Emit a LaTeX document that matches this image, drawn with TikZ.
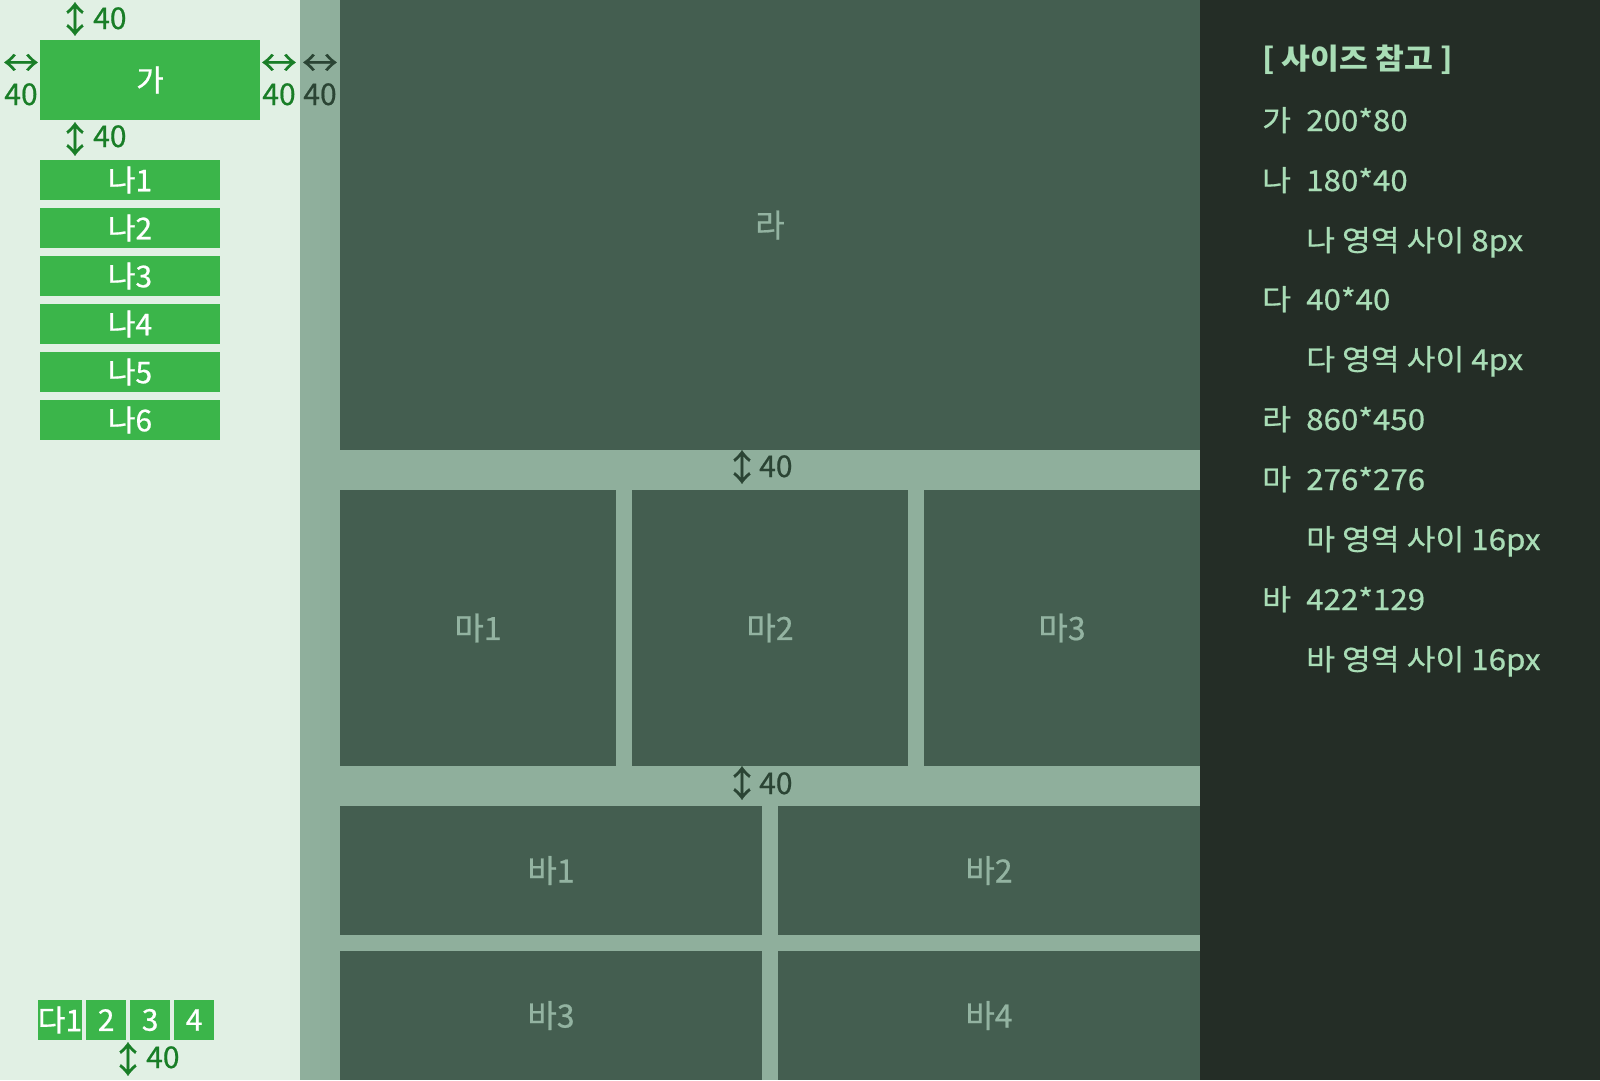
\documentclass[tikz,border=0pt]{standalone}
\usepackage{fontspec}
\setmainfont[UprightFeatures={FakeBold=0.6}]{Noto Sans CJK KR}
\newfontfamily\notefont[FakeStretch=1.08, UprightFeatures={FakeBold=0.6}]{Noto Sans CJK KR}
\usetikzlibrary{positioning}

\definecolor{sidebg}{HTML}{E1F0E4}
\definecolor{stripbg}{HTML}{8FAF9C}
\definecolor{areabg}{HTML}{445E50}
\definecolor{arealabel}{HTML}{93B3A1}
\definecolor{boxgreen}{HTML}{3BB54A}
\definecolor{dimgreen}{HTML}{197E27}
\definecolor{dimdark}{HTML}{2B4434}
\definecolor{notebg}{HTML}{242D26}
\definecolor{notetext}{HTML}{A9DDB6}

\tikzset{
  gbox/.style={fill=boxgreen, text=white, inner sep=0pt, outer sep=0pt,
    font=\fontsize{30}{30}\selectfont},
  areabox/.style={fill=areabg, text=arealabel, inner sep=0pt, outer sep=0pt,
    font=\fontsize{32}{32}\selectfont},
  dimtext/.style={text=dimgreen, inner sep=0pt, font=\fontsize{30}{30}\selectfont},
  dimarrow/.style={text=dimgreen, inner sep=0pt, font=\fontsize{36}{36}\selectfont},
  notetxt/.style={text=notetext, inner sep=0pt, anchor=base west,
    font=\notefont\fontsize{29}{29}\selectfont},
}

\begin{document}
\begin{tikzpicture}[x=1pt,y=-1pt]
        \useasboundingbox (0,0) rectangle (1600,1080);
        % backgrounds
        \fill[sidebg] (0,0) rectangle (300,1080);
        \fill[stripbg] (300,0) rectangle (1200,1080);
        \fill[notebg] (1200,0) rectangle (1600,1080);

        % sidebar
        \node[gbox, minimum width=220pt, minimum height=80pt] (ga) at (150,80) {가};
        \node[gbox, minimum width=180pt, minimum height=40pt] (na1) at (130,180) {나1};
        \node[gbox, minimum width=180pt, minimum height=40pt, below=8pt of na1] (na2) {나2};
        \node[gbox, minimum width=180pt, minimum height=40pt, below=8pt of na2] (na3) {나3};
        \node[gbox, minimum width=180pt, minimum height=40pt, below=8pt of na3] (na4) {나4};
        \node[gbox, minimum width=180pt, minimum height=40pt, below=8pt of na4] (na5) {나5};
        \node[gbox, minimum width=180pt, minimum height=40pt, below=8pt of na5] (na6) {나6};
        \node[gbox, minimum width=40pt, minimum height=40pt] (da1) at (60,1020) {다1};
        \node[gbox, minimum width=40pt, minimum height=40pt, right=4pt of da1] (da2) {2};
        \node[gbox, minimum width=40pt, minimum height=40pt, right=4pt of da2] (da3) {3};
        \node[gbox, minimum width=40pt, minimum height=40pt, right=4pt of da3] (da4) {4};

        % spacing marks
        \node[dimarrow] (ga-top-arr) at (75,19) {↕};
        \node[dimtext, anchor=base west] (ga-top) at (93,29) {40};
        \node[dimarrow] (ga-left-arr) at (21,65) {↔};
        \node[dimtext, anchor=base] (ga-left) at (21,105) {40};
        \node[dimarrow] (ga-right-arr) at (279,65) {↔};
        \node[dimtext, anchor=base] (ga-right) at (279,105) {40};
        \node[dimarrow, text=dimdark] (strip-arr) at (320,65) {↔};
        \node[dimtext, text=dimdark, anchor=base] (strip) at (320,105) {40};
        \node[dimarrow] (ga-bot-arr) at (75,139) {↕};
        \node[dimtext, anchor=base west] (ga-bot) at (93,147) {40};
        \node[dimarrow] (da-bot-arr) at (128,1059) {↕};
        \node[dimtext, anchor=base west] (da-bot) at (146,1068) {40};

        % main area
        \node[areabox, minimum width=860pt, minimum height=450pt] (ra) at (770,225) {라};
        \node[areabox, minimum width=276pt, minimum height=276pt] (ma1) at (478,628) {마1};
        \node[areabox, minimum width=276pt, minimum height=276pt, right=16pt of ma1] (ma2) {마2};
        \node[areabox, minimum width=276pt, minimum height=276pt, right=16pt of ma2] (ma3) {마3};
        \node[areabox, minimum width=422pt, minimum height=129pt] (ba1) at (551,870.5) {바1};
        \node[areabox, minimum width=422pt, minimum height=129pt, right=16pt of ba1] (ba2) {바2};
        \node[areabox, minimum width=422pt, minimum height=129pt, below=16pt of ba1] (ba3) {바3};
        \node[areabox, minimum width=422pt, minimum height=129pt, below=16pt of ba2] (ba4) {바4};
        \node[dimarrow, text=dimdark] (gap1-arr) at (742,467) {↕};
        \node[dimtext, text=dimdark, anchor=base west] (gap1) at (759,477) {40};
        \node[dimarrow, text=dimdark] (gap2-arr) at (742,783) {↕};
        \node[dimtext, text=dimdark, anchor=base west] (gap2) at (759,794) {40};

        % size notes
        \node[notetxt, font=\notefont\fontsize{29}{29}\selectfont\bfseries] (title) at (1262,69) {[ 사이즈 참고 ]};
        \node[notetxt] (k-ga) at (1262,131) {가};
        \node[notetxt] (v-ga) at (1306,131) {200*80};
        \node[notetxt] (k-na) at (1262,191) {나};
        \node[notetxt] (v-na) at (1306,191) {180*40};
        \node[notetxt] (g-na) at (1306,251) {나 영역 사이 8px};
        \node[notetxt] (k-da) at (1262,310) {다};
        \node[notetxt] (v-da) at (1306,310) {40*40};
        \node[notetxt] (g-da) at (1306,370) {다 영역 사이 4px};
        \node[notetxt] (k-ra) at (1262,430) {라};
        \node[notetxt] (v-ra) at (1306,430) {860*450};
        \node[notetxt] (k-ma) at (1262,490) {마};
        \node[notetxt] (v-ma) at (1306,490) {276*276};
        \node[notetxt] (g-ma) at (1306,550) {마 영역 사이 16px};
        \node[notetxt] (k-ba) at (1262,610) {바};
        \node[notetxt] (v-ba) at (1306,610) {422*129};
        \node[notetxt] (g-ba) at (1306,670) {바 영역 사이 16px};
      \end{tikzpicture}
\end{document}
